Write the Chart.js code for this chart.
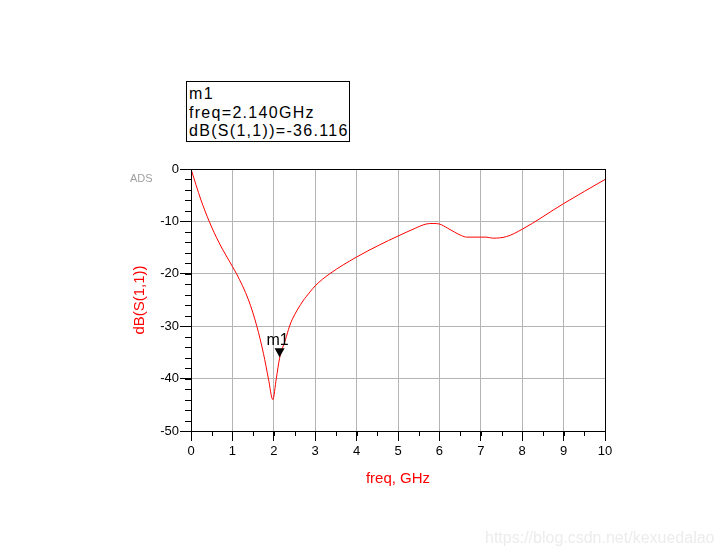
<!DOCTYPE html>
<html lang="en">
<head>
    <meta charset="UTF-8">
    <title>dB(S(1,1)) vs freq</title>
    <script src="https://cdn.jsdelivr.net/npm/chart.js"></script>
    <style>
        body { margin: 0; background: #fff; }
        #wrap { position: relative; width: 722px; height: 555px; }
        #marker-box {
            position: absolute; left: 186px; top: 81px; width: 164px; height: 61px;
            border: 1px solid #000; background: #fff;
            font: 16px Arial, "Liberation Sans", sans-serif; letter-spacing: 1.3px;
            line-height: 18.5px; padding: 3px 0 0 2px; box-sizing: border-box; color: #000;
        }
        #ads { position: absolute; left: 130px; top: 172px; font: 11px Arial, "Liberation Sans", sans-serif; color: #a0a0a0; }
        #wm { position: absolute; left: 485px; top: 529px; font: 16px Arial, "Liberation Sans", sans-serif; color: #ececec; }
    </style>
</head>
<body>
    <div id="wrap">
        <canvas id="s11-chart" width="722" height="555"></canvas>
        <div id="marker-box">m1<br>freq=2.140GHz<br>dB(S(1,1))=-36.116</div>
        <div id="ads">ADS</div>
        <div id="wm">https://blog.csdn.net/kexuedalao</div>
    </div>

    <script>
        // values
        const freqGHz = [0, 0.12, 0.24, 0.44, 0.68, 1.0, 1.1, 1.39, 1.59, 1.75, 1.87, 1.976,
                         2.06, 2.14, 2.28, 2.38, 2.44, 2.72, 2.78, 3.0, 3.35, 4.0, 4.55, 5.0,
                         5.39, 5.68, 5.85, 6.0, 6.2, 6.53, 6.66, 7.13, 7.29, 7.62, 8.0, 9.0, 10.0];
        const s11dB = [0, -3.0, -5.9, -10, -14.1, -18.6, -20, -25, -30, -35.2, -40, -44.0,
                       -40, -36.1, -32.6, -30, -28.8, -25, -24.4, -22.3, -20, -16.8, -14.5, -12.8,
                       -11.4, -10.5, -10.4, -10.5, -11.3, -12.7, -13.0, -13.0, -13.2, -12.9, -11.5, -6.6, -2.0];

        const markerName = 'm1';
        const markerFreq = 2.140;
        const markerVal = -36.116;

        const xMin = 0, xMax = 10, xStep = 1, xMinor = 0.5;
        const yMin = -50, yMax = 0, yStep = 10, yMinor = 2;

        const FONT = 'Arial, "Liberation Sans", sans-serif';

        // minor ticks, plot frame and the marker
        const adsExtras = {
            id: 'adsExtras',
            afterDraw(chart) {
                const ctx = chart.ctx;
                const a = chart.chartArea;
                const xs = chart.scales.x, ys = chart.scales.y;
                ctx.save();
                ctx.strokeStyle = '#000';
                ctx.lineWidth = 1;
                ctx.beginPath();
                for (let v = xMin; v <= xMax + 1e-9; v += xMinor) {
                    const px = Math.round(xs.getPixelForValue(v)) + 0.5;
                    ctx.moveTo(px, a.bottom);
                    ctx.lineTo(px, a.bottom + 5);
                }
                for (let v = yMin; v <= yMax + 1e-9; v += yMinor) {
                    const py = Math.round(ys.getPixelForValue(v)) + 0.5;
                    ctx.moveTo(a.left, py);
                    ctx.lineTo(a.left - 6, py);
                }
                ctx.stroke();
                ctx.strokeRect(Math.round(a.left) + 0.5, Math.round(a.top) + 0.5,
                               Math.round(a.right - a.left), Math.round(a.bottom - a.top));

                const mx = xs.getPixelForValue(markerFreq);
                const my = ys.getPixelForValue(markerVal);
                ctx.fillStyle = '#000';
                ctx.beginPath();
                ctx.moveTo(mx - 5, my - 10);
                ctx.lineTo(mx + 5, my - 10);
                ctx.lineTo(mx, my - 1);
                ctx.closePath();
                ctx.fill();
                ctx.font = '16px ' + FONT;
                ctx.textAlign = 'center';
                ctx.textBaseline = 'alphabetic';
                ctx.fillText(markerName, mx - 2, my - 13);
                ctx.restore();
            }
        };

        const ctx = document.getElementById('s11-chart').getContext('2d');
        new Chart(ctx, {
            type: 'line',
            data: {
                datasets: [{
                    label: 'dB(S(1,1))',
                    data: freqGHz.map((f, i) => ({ x: f, y: s11dB[i] })),
                    borderColor: '#ff0000',
                    borderWidth: 1,
                    pointRadius: 0,
                    cubicInterpolationMode: 'monotone',
                    fill: false
                }]
            },
            options: {
                responsive: false,
                animation: false,
                layout: { padding: { left: 0, top: 169, right: 117, bottom: 0 } },
                plugins: { legend: { display: false }, tooltip: { enabled: false } },
                scales: {
                    x: {
                        type: 'linear',
                        min: xMin, max: xMax,
                        afterFit(s) { s.height = 124; },
                        ticks: { stepSize: xStep, color: '#000', font: { family: FONT, size: 13 }, padding: 3, maxRotation: 0 },
                        grid: { color: '#b4b4b4', tickColor: '#000', tickLength: 10, lineWidth: 1 },
                        border: { color: '#000', width: 1 },
                        title: {
                            display: true, text: 'freq, GHz', color: '#ff0000',
                            font: { family: FONT, size: 15 }, padding: { top: 0, bottom: 67 }
                        }
                    },
                    y: {
                        min: yMin, max: yMax,
                        afterFit(s) { s.width = 191; },
                        ticks: { stepSize: yStep, color: '#000', font: { family: FONT, size: 13 }, padding: 1 },
                        grid: { color: '#b4b4b4', tickColor: '#000', tickLength: 11, lineWidth: 1 },
                        border: { color: '#000', width: 1 },
                        title: {
                            display: true, text: 'dB(S(1,1))', color: '#ff0000',
                            font: { family: FONT, size: 15 }, padding: { top: 131, bottom: 0 }
                        }
                    }
                }
            },
            plugins: [adsExtras]
        });
    </script>
</body>
</html>
